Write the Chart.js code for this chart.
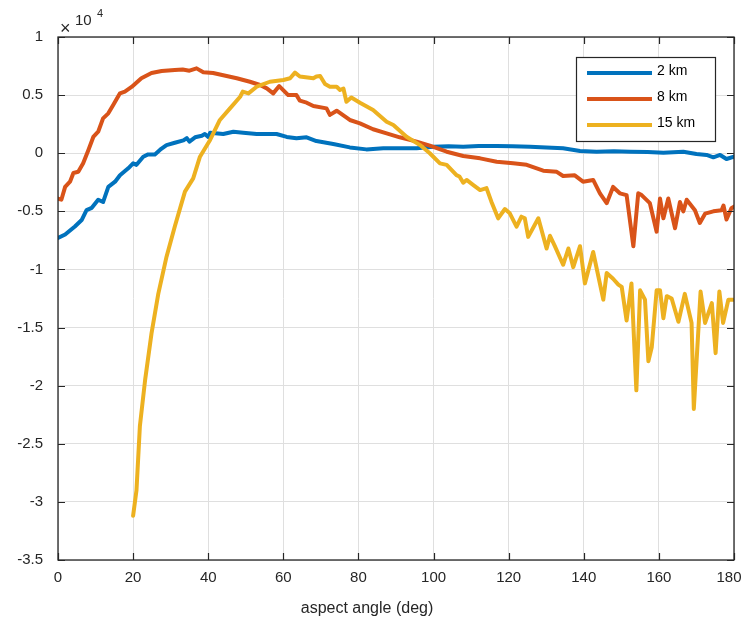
<!DOCTYPE html>
<html><head><meta charset="utf-8">
<script src="https://cdn.jsdelivr.net/npm/chart.js@4/dist/chart.umd.min.js"></script>
<style>html,body{margin:0;padding:0;background:#fff;overflow:hidden}#wrap{width:745px;height:623px;position:relative}</style>
</head><body><div id="wrap"><canvas id="c"></canvas></div>
<script>
const seriesNames = ['2 km', '8 km', '15 km'];
const seriesColors = ['#0072BD', '#D95319', '#EDB120'];
const xTickValues = [0, 20, 40, 60, 80, 100, 120, 140, 160, 180];
const yTickValues = [-3.5, -3, -2.5, -2, -1.5, -1, -0.5, 0, 0.5, 1];
const xLabel = 'aspect angle (deg)';
const yExponent = '4';

const angles2km = [0,1.9,4.5,6.3,7.6,9,10.7,12,13.4,15.2,16.5,18.7,20,20.9,22.7,24,25.8,27.2,28.9,31.1,33.4,34.3,35,36.5,38.3,39.1,40,40.5,44,46.7,49.3,52.9,58.2,60.9,63.5,66.2,68.8,73.3,77.7,82.1,86.6,91,95.5,100,104,107.9,112,116.8,121,125.7,130,134.5,139,143.4,148,152.3,157,161.2,166.5,170,172.7,174.5,176.3,178,180];
const values2km = [-0.73,-0.70,-0.63,-0.575,-0.49,-0.47,-0.40,-0.42,-0.29,-0.245,-0.19,-0.13,-0.087,-0.10,-0.03,-0.01,-0.01,0.03,0.07,0.09,0.11,0.13,0.10,0.137,0.15,0.165,0.14,0.176,0.165,0.185,0.177,0.165,0.165,0.14,0.128,0.137,0.105,0.079,0.05,0.033,0.042,0.042,0.042,0.055,0.06,0.056,0.062,0.062,0.06,0.056,0.05,0.042,0.02,0.013,0.018,0.013,0.01,0.004,0.013,-0.007,-0.015,-0.035,-0.015,-0.05,-0.03];

const angles8km = [0,0.9,1.9,3.2,4.1,5.4,6.7,8.1,9.4,10.7,12,13.4,14.7,16.5,17.8,19.6,22.2,24.9,27.6,31.1,33.2,35,36.9,38.7,41.3,44.9,47.6,51.1,53.8,55.6,57.3,58.9,61.3,63.5,64.4,66.2,68,71.5,72.4,74.2,77.7,80.4,83.9,87.5,91,95.5,99,103.5,107.9,112.4,116.8,121.2,124.8,129.2,132.8,134.5,137.6,139.8,142.5,144.3,146.1,147.8,149.6,151.4,153.2,154.5,155.4,157.6,159.4,160.3,161.2,162.5,164.3,165.6,166.5,167.4,169.6,170.9,172.3,174.5,176.7,177.2,178,179.3,180];
const values8km = [-0.39,-0.40,-0.29,-0.245,-0.17,-0.16,-0.087,0.028,0.14,0.185,0.30,0.343,0.415,0.515,0.53,0.57,0.645,0.69,0.707,0.716,0.72,0.71,0.73,0.696,0.69,0.664,0.645,0.615,0.587,0.558,0.515,0.578,0.50,0.50,0.452,0.435,0.406,0.386,0.33,0.366,0.286,0.257,0.206,0.171,0.137,0.10,0.065,0.013,-0.024,-0.044,-0.073,-0.087,-0.10,-0.15,-0.16,-0.196,-0.19,-0.245,-0.23,-0.345,-0.43,-0.29,-0.345,-0.36,-0.80,-0.345,-0.36,-0.43,-0.675,-0.39,-0.56,-0.39,-0.645,-0.42,-0.50,-0.40,-0.49,-0.60,-0.52,-0.50,-0.49,-0.45,-0.57,-0.474,-0.46];

const angles15km = [20,20.9,21.8,23.2,24.9,26.7,28.9,31.1,33.8,36,37.8,40.5,43.1,45.8,48.5,49.2,50.7,52.9,56.4,60,61.8,63.1,64.4,68,68.8,69.8,71.1,72.4,74.2,75.1,76,76.8,78.1,80.4,83.9,87.5,89.3,92.8,96.4,99,101.7,103.5,106.1,106.9,107.9,108.8,110.6,112.4,114.1,115.4,117.2,119,120.3,122.1,123.4,124.3,125.2,127.9,130.1,131,132.3,134.5,135.9,137.2,139,140.3,142.5,145.2,146.1,147.8,149.2,150.1,151.4,152.7,154,155,156.3,157.2,158.1,159.4,160.3,161.2,162.1,163.4,165.2,166.9,168.7,169.3,171.1,172.3,174.1,175.1,176.1,177.1,178.5,180];
const values15km = [-3.12,-2.90,-2.35,-1.95,-1.55,-1.21,-0.89,-0.63,-0.33,-0.216,-0.03,0.114,0.286,0.386,0.486,0.53,0.515,0.572,0.615,0.63,0.645,0.693,0.66,0.645,0.66,0.664,0.595,0.572,0.572,0.544,0.557,0.443,0.48,0.435,0.372,0.271,0.243,0.142,0.07,0.0,-0.087,-0.10,-0.188,-0.20,-0.254,-0.23,-0.274,-0.317,-0.30,-0.417,-0.56,-0.48,-0.517,-0.632,-0.546,-0.56,-0.72,-0.56,-0.82,-0.71,-0.80,-0.96,-0.82,-0.98,-0.80,-1.12,-0.85,-1.26,-1.03,-1.08,-1.13,-1.15,-1.44,-1.12,-2.04,-1.18,-1.26,-1.79,-1.67,-1.18,-1.18,-1.42,-1.23,-1.25,-1.45,-1.21,-1.46,-2.20,-1.19,-1.46,-1.29,-1.72,-1.19,-1.46,-1.26,-1.26];

function pairs(xs, ys) { return xs.map((x, i) => ({x: x, y: ys[i]})); }

const FONT = '"Liberation Sans", Arial, Helvetica, sans-serif';
const AXIS = '#262626';

const decorPlugin = {
  id: 'decor',
  afterDraw(chart) {
    const ctx = chart.ctx;
    const a = chart.chartArea;
    const xs = chart.scales.x, ys = chart.scales.y;
    ctx.save();
    ctx.strokeStyle = AXIS;
    ctx.lineWidth = 1.3;
    ctx.strokeRect(a.left, a.top, a.right - a.left, a.bottom - a.top);
    ctx.lineWidth = 1.2;
    ctx.beginPath();
    xTickValues.forEach(v => {
      const px = Math.round(xs.getPixelForValue(v)) + 0.5;
      ctx.moveTo(px, a.bottom); ctx.lineTo(px, a.bottom - 7);
      ctx.moveTo(px, a.top); ctx.lineTo(px, a.top + 7);
    });
    yTickValues.forEach(v => {
      const py = Math.round(ys.getPixelForValue(v)) + 0.5;
      ctx.moveTo(a.left, py); ctx.lineTo(a.left + 7, py);
      ctx.moveTo(a.right, py); ctx.lineTo(a.right - 7, py);
    });
    ctx.stroke();
    ctx.fillStyle = AXIS;
    ctx.textBaseline = 'middle';
    ctx.textAlign = 'left';
    ctx.font = '18px ' + FONT;
    ctx.fillText('\u00d7', 60, 29);
    ctx.font = '15px ' + FONT;
    ctx.fillText('10', 75, 21);
    ctx.font = '11px ' + FONT;
    ctx.fillText(yExponent, 97, 14);
    ctx.font = '16px ' + FONT;
    ctx.textAlign = 'center';
    ctx.fillText(xLabel, 367, 609);
    const bx = 576, by = 57, bw = 139, bh = 84;
    ctx.fillStyle = '#ffffff';
    ctx.fillRect(bx, by, bw, bh);
    ctx.strokeStyle = AXIS;
    ctx.lineWidth = 1.2;
    ctx.strokeRect(bx + 0.5, by + 0.5, bw, bh);
    const rows = [73, 99, 125];
    chart.data.datasets.forEach((ds, i) => {
      ctx.strokeStyle = ds.borderColor;
      ctx.lineWidth = 4;
      ctx.beginPath();
      ctx.moveTo(587, rows[i]); ctx.lineTo(652, rows[i]);
      ctx.stroke();
      ctx.fillStyle = '#000';
      ctx.font = '14px ' + FONT;
      ctx.textAlign = 'left';
      ctx.fillText(ds.label, 657, rows[i] - 2);
    });
    ctx.restore();
  }
};

function shiftLastLabel(s) {
  if (s._patched) return;
  s._patched = true;
  const orig = s._computeLabelItems;
  s._computeLabelItems = function (ca) {
    const items = orig.call(this, ca);
    const last = items[items.length - 1];
    if (last && last.options && last.options.translation) last.options.translation[0] -= 5;
    return items;
  };
}

new Chart(document.getElementById('c'), {
  type: 'line',
  data: {
    datasets: [
      {label: seriesNames[0], data: pairs(angles2km, values2km), borderColor: seriesColors[0], order: 3},
      {label: seriesNames[1], data: pairs(angles8km, values8km), borderColor: seriesColors[1], order: 2},
      {label: seriesNames[2], data: pairs(angles15km, values15km), borderColor: seriesColors[2], order: 1}
    ]
  },
  options: {
    responsive: true,
    maintainAspectRatio: false,
    animation: false,
    devicePixelRatio: 1,
    elements: {
      line: {borderWidth: 4, tension: 0, fill: false, borderJoinStyle: 'round', borderCapStyle: 'round'},
      point: {radius: 0, hoverRadius: 0}
    },
    layout: {padding: {top: 37, right: 11, left: 0, bottom: 0}},
    plugins: {legend: {display: false}, title: {display: false}, tooltip: {enabled: false}},
    scales: {
      x: {
        type: 'linear', min: 0, max: 180,
        afterBuildTicks: s => { s.ticks = xTickValues.map(v => ({value: v})); shiftLastLabel(s); },
        afterFit: s => { s.height = 63; s.paddingLeft = 0; s.paddingRight = 0; },
        grid: {color: '#dfdfdf', lineWidth: 1, drawTicks: false},
        border: {display: false},
        ticks: {padding: 9, color: AXIS, font: {family: FONT, size: 15}, maxRotation: 0, callback: v => String(v)}
      },
      y: {
        type: 'linear', min: -3.5, max: 1,
        afterBuildTicks: s => { s.ticks = yTickValues.map(v => ({value: v})); },
        afterFit: s => { s.width = 58; s.paddingTop = 0; s.paddingBottom = 0; },
        grid: {color: '#dfdfdf', lineWidth: 1, drawTicks: false},
        border: {display: false},
        ticks: {padding: 15, color: AXIS, font: {family: FONT, size: 15}, callback: v => String(v)}
      }
    }
  },
  plugins: [decorPlugin]
});
</script>
</body></html>
